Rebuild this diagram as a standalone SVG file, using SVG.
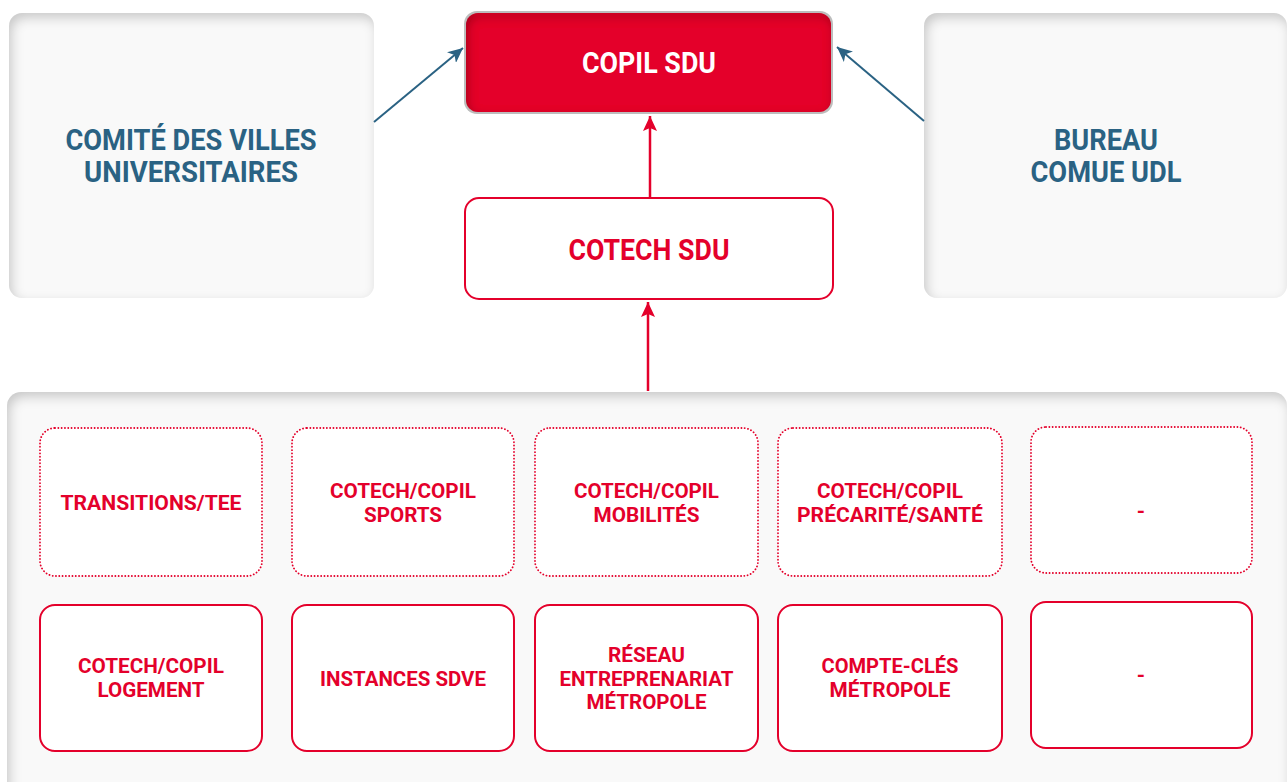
<svg xmlns="http://www.w3.org/2000/svg" width="1287" height="782" viewBox="0 0 1287 782">
<defs>
<style>
.panel{fill:#f9f9f9;filter:url(#inset)}
.big{font-family:Roboto,"Liberation Sans",sans-serif;font-weight:bold;font-size:29px;text-anchor:middle}
.blue{fill:#2a6283}
.sm{font-family:Roboto,"Liberation Sans",sans-serif;font-weight:bold;font-size:21px;text-anchor:middle;fill:#e4002b}
.dot{fill:#fff;stroke:#e4002b;stroke-width:1.8;stroke-dasharray:0.1 3.2;stroke-linecap:round}
.sol{fill:#fff;stroke:#e4002b;stroke-width:2}
.bl{stroke:#2a6283;stroke-width:2;fill:none}
.rl{stroke:#e4002b;stroke-width:2.5;fill:none}
</style>
<filter id="inset" x="-5%" y="-5%" width="110%" height="110%">
<feComponentTransfer in="SourceAlpha" result="inv"><feFuncA type="table" tableValues="1 0"/></feComponentTransfer>
<feGaussianBlur in="inv" stdDeviation="6" result="b"/>
<feOffset in="b" dx="3" dy="5" result="o"/>
<feFlood flood-color="#000" flood-opacity="0.4"/>
<feComposite in2="o" operator="in" result="s"/>
<feComposite in="s" in2="SourceAlpha" operator="in" result="s2"/>
<feMerge><feMergeNode in="SourceGraphic"/><feMergeNode in="s2"/></feMerge>
</filter>
<filter id="insetR" x="-5%" y="-5%" width="110%" height="110%">
<feComponentTransfer in="SourceAlpha" result="inv"><feFuncA type="table" tableValues="1 0"/></feComponentTransfer>
<feGaussianBlur in="inv" stdDeviation="5" result="b"/>
<feOffset in="b" dx="2" dy="4" result="o"/>
<feFlood flood-color="#5a0010" flood-opacity="0.6"/>
<feComposite in2="o" operator="in" result="s"/>
<feComposite in="s" in2="SourceAlpha" operator="in" result="s2"/>
<feMerge><feMergeNode in="SourceGraphic"/><feMergeNode in="s2"/></feMerge>
</filter>
<marker id="ab" markerUnits="userSpaceOnUse" markerWidth="16" markerHeight="14" refX="15" refY="7" orient="auto">
<path d="M0,0 L15,7 L0,14 L4,7 Z" fill="#2a6283"/>
</marker>
<marker id="ar" markerUnits="userSpaceOnUse" markerWidth="16" markerHeight="14" refX="15" refY="7" orient="auto">
<path d="M0,0 L15,7 L0,14 L3,7 Z" fill="#e4002b"/>
</marker>
</defs>
<rect width="1287" height="782" fill="#fff"/>

<g id="comite">
<rect class="panel" x="9" y="13" width="365" height="285" rx="13"/>
<text class="big blue" x="191" y="150" textLength="251" lengthAdjust="spacingAndGlyphs">COMITÉ DES VILLES</text>
<text class="big blue" x="191" y="182" textLength="214" lengthAdjust="spacingAndGlyphs">UNIVERSITAIRES</text>
</g>

<g id="bureau">
<rect class="panel" x="924" y="13" width="363" height="285" rx="13"/>
<text class="big blue" x="1106" y="150" textLength="104" lengthAdjust="spacingAndGlyphs">BUREAU</text>
<text class="big blue" x="1106" y="182" textLength="151" lengthAdjust="spacingAndGlyphs">COMUE UDL</text>
</g>

<g id="copil">
<rect x="464" y="11" width="369" height="103" rx="13" fill="#bdbdbd"/>
<rect x="466" y="13" width="365" height="99" rx="12" fill="#e4002b" filter="url(#insetR)"/>
<text class="big" fill="#fff" x="649" y="73" textLength="134" lengthAdjust="spacingAndGlyphs">COPIL SDU</text>
</g>

<g id="cotech">
<rect class="sol" x="465" y="198" width="368" height="101" rx="14"/>
<text class="big" fill="#e4002b" x="649" y="260" textLength="161" lengthAdjust="spacingAndGlyphs">COTECH SDU</text>
</g>

<g id="groupes">
<rect class="panel" x="7" y="392" width="1280" height="420" rx="14"/>
</g>

<g id="transitions">
<rect class="dot" x="40" y="428" width="222" height="148" rx="15"/>
<text class="sm" x="151" y="510" textLength="181" lengthAdjust="spacingAndGlyphs">TRANSITIONS/TEE</text>
</g>
<g id="sports">
<rect class="dot" x="292" y="428" width="222" height="148" rx="15"/>
<text class="sm" x="403" y="498" textLength="146" lengthAdjust="spacingAndGlyphs">COTECH/COPIL</text>
<text class="sm" x="403" y="522" textLength="78" lengthAdjust="spacingAndGlyphs">SPORTS</text>
</g>
<g id="mobilites">
<rect class="dot" x="535" y="428" width="223" height="148" rx="15"/>
<text class="sm" x="646.5" y="498" textLength="145" lengthAdjust="spacingAndGlyphs">COTECH/COPIL</text>
<text class="sm" x="646.5" y="522" textLength="106" lengthAdjust="spacingAndGlyphs">MOBILITÉS</text>
</g>
<g id="precarite">
<rect class="dot" x="778" y="428" width="224" height="148" rx="15"/>
<text class="sm" x="890" y="498" textLength="146" lengthAdjust="spacingAndGlyphs">COTECH/COPIL</text>
<text class="sm" x="890" y="522" textLength="186" lengthAdjust="spacingAndGlyphs">PRÉCARITÉ/SANTÉ</text>
</g>
<g id="vide1">
<rect class="dot" x="1031" y="427" width="221" height="146" rx="15"/>
<text class="sm" x="1141" y="518">-</text>
</g>

<g id="logement">
<rect class="sol" x="40" y="605" width="222" height="146" rx="15"/>
<text class="sm" x="151" y="673" textLength="146" lengthAdjust="spacingAndGlyphs">COTECH/COPIL</text>
<text class="sm" x="151" y="697" textLength="107" lengthAdjust="spacingAndGlyphs">LOGEMENT</text>
</g>
<g id="sdve">
<rect class="sol" x="292" y="605" width="222" height="146" rx="15"/>
<text class="sm" x="403" y="686" textLength="166" lengthAdjust="spacingAndGlyphs">INSTANCES SDVE</text>
</g>
<g id="reseau">
<rect class="sol" x="535" y="605" width="223" height="146" rx="15"/>
<text class="sm" x="646.5" y="662" textLength="77" lengthAdjust="spacingAndGlyphs">RÉSEAU</text>
<text class="sm" x="646.5" y="686" textLength="174" lengthAdjust="spacingAndGlyphs">ENTREPRENARIAT</text>
<text class="sm" x="646.5" y="709" textLength="120" lengthAdjust="spacingAndGlyphs">MÉTROPOLE</text>
</g>
<g id="compte">
<rect class="sol" x="778" y="605" width="224" height="146" rx="15"/>
<text class="sm" x="890" y="673" textLength="137" lengthAdjust="spacingAndGlyphs">COMPTE-CLÉS</text>
<text class="sm" x="890" y="697" textLength="121" lengthAdjust="spacingAndGlyphs">MÉTROPOLE</text>
</g>
<g id="vide2">
<rect class="sol" x="1031" y="602" width="221" height="146" rx="15"/>
<text class="sm" x="1141" y="682">-</text>
</g>

<g id="connectors">
<line class="bl" x1="374" y1="122" x2="463" y2="48" marker-end="url(#ab)"/>
<line class="bl" x1="924" y1="121" x2="837" y2="47" marker-end="url(#ab)"/>
<line class="rl" x1="650" y1="198" x2="650" y2="116" marker-end="url(#ar)"/>
<line class="rl" x1="648" y1="391" x2="648" y2="302" marker-end="url(#ar)"/>
</g>
</svg>
